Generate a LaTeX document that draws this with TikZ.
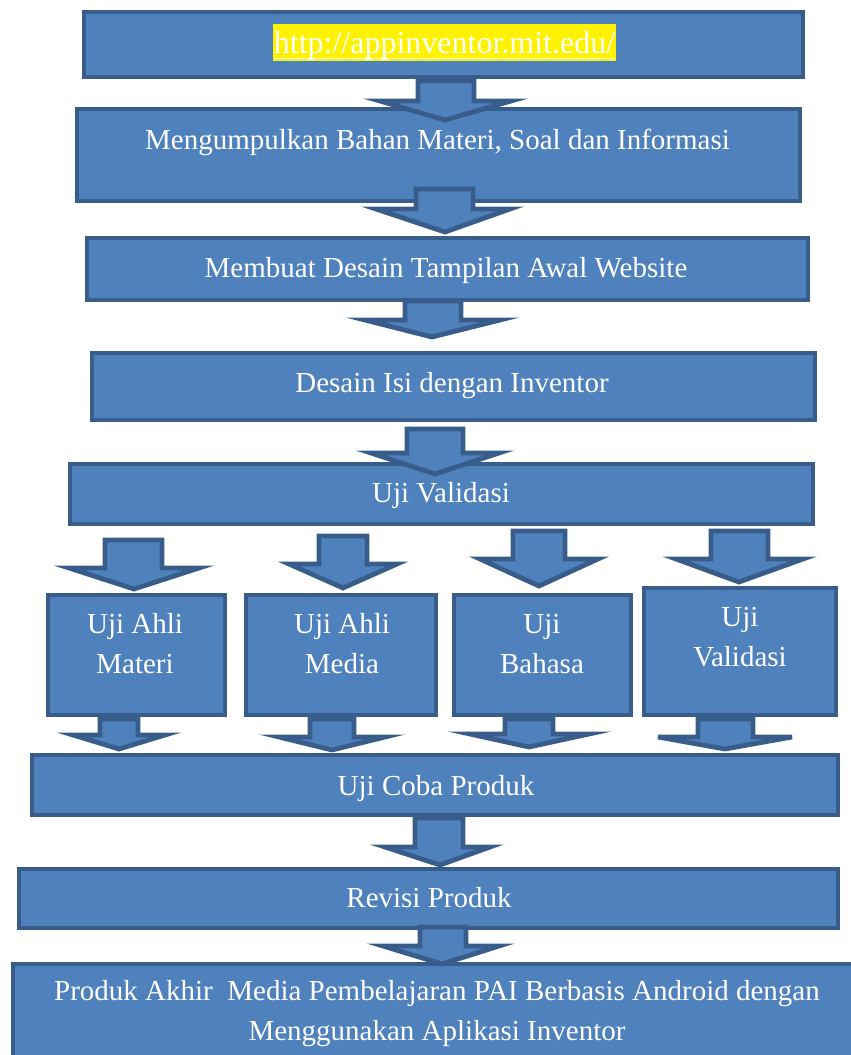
\documentclass[tikz,border=0pt]{standalone}
\usepackage{fontspec}
\setmainfont{Liberation Serif}
\definecolor{boxfill}{HTML}{4F81BD}
\definecolor{boxline}{HTML}{385D8A}
\tikzset{
  flowbox/.style={draw=boxline, fill=boxfill, line width=4.8pt, rectangle, inner sep=0pt, outer sep=0pt, line join=miter},
  blockarrow/.style={draw=boxline, fill=boxfill, line width=4.8pt, line join=miter},
  boxtext/.style={text=white, font=\fontsize{29}{40}\selectfont, align=center, anchor=base, inner sep=0pt},
}
% block arrow: shaft x1, shaft x2, top, head base, head x1, head x2, tip x, tip y
\newcommand\blkarrow[8]{%
  \draw[blockarrow] ({#1+2},{#3+2}) -- ({#2-2},{#3+2}) -- ({#2-2},{#4+2}) -- ({#6-3},{#4+2})
    -- (#7,{#8-3}) -- ({#5+3},{#4+2}) -- ({#1+2},{#4+2}) -- cycle;}
\begin{document}
\begin{tikzpicture}[x=1pt,y=-1pt]
\useasboundingbox (0,0) rectangle (851,1055);
\clip (0,0) rectangle (851,1055);
% boxes
\node[flowbox, minimum width=719pt, minimum height=65pt] (b1) at (443.5,44.5) {};
\node[flowbox, minimum width=723pt, minimum height=92pt] (b2) at (438.5,155) {};
\node[flowbox, minimum width=721pt, minimum height=62pt] (b3) at (447.5,269) {};
\node[flowbox, minimum width=723pt, minimum height=67pt] (b4) at (453.5,386.5) {};
\node[flowbox, minimum width=743pt, minimum height=60pt] (b5) at (441.5,494) {};
\node[flowbox, minimum width=177pt, minimum height=120pt] (bA) at (136.5,655) {};
\node[flowbox, minimum width=190pt, minimum height=120pt] (bB) at (341,655) {};
\node[flowbox, minimum width=177pt, minimum height=120pt] (bC) at (542.5,655) {};
\node[flowbox, minimum width=192pt, minimum height=127pt] (bD) at (740,651.5) {};
\node[flowbox, minimum width=806pt, minimum height=60pt] (b6) at (435,785) {};
\node[flowbox, minimum width=819pt, minimum height=59pt] (b7) at (428.5,898.5) {};
\node[flowbox, minimum width=847pt, minimum height=101pt] (b8) at (436.5,1014.5) {};
% highlight for URL
\fill[yellow] (273,24) rectangle (616,61);
% texts
\node[boxtext, font=\fontsize{32}{40}\selectfont] (t1) at (444.5,53) {http://appinventor.mit.edu/};
\draw[white, line width=1.5pt] (274,58.5) -- (614,58.5);
\node[boxtext] (t2) at (437.5,149) {Mengumpulkan Bahan Materi, Soal dan Informasi};
\node[boxtext] (t3) at (446,277) {Membuat Desain Tampilan Awal Website};
\node[boxtext] (t4) at (452,392) {Desain Isi dengan Inventor};
\node[boxtext] (t5) at (441,502) {Uji Validasi};
\node[boxtext] (tA) at (135,673) {Uji Ahli\\Materi};
\node[boxtext] (tB) at (342,673) {Uji Ahli\\Media};
\node[boxtext] (tC) at (542,673) {Uji\\Bahasa};
\node[boxtext] (tD) at (740,666) {Uji\\Validasi};
\node[boxtext] (t6) at (436,795) {Uji Coba Produk};
\node[boxtext] (t7) at (429,907) {Revisi Produk};
\node[boxtext] (t8) at (437,1040) {Produk Akhir\ \ Media Pembelajaran PAI Berbasis Android dengan\\Menggunakan Aplikasi Inventor};
% arrows
\blkarrow{416}{476}{79}{99}{377}{514}{445}{123}
\blkarrow{414}{475}{187}{207}{373}{513}{445}{235}
\blkarrow{403}{463}{299}{318}{362}{503}{432}{340}
\blkarrow{405}{465}{427}{451}{368}{502}{435}{477}
\blkarrow{103}{164}{538}{566}{66}{202}{134}{592}
\blkarrow{317}{369}{534}{562}{286}{400}{343}{591}
\blkarrow{511}{567}{529}{557}{477}{601}{539}{589}
\blkarrow{709}{770}{529}{557}{673}{806}{739}{585}
\blkarrow{98}{140}{717}{733}{70}{168}{119}{752}
\blkarrow{308}{356}{717}{735}{276}{388}{332}{753}
\blkarrow{503}{555}{717}{732}{467}{592}{529}{750}
\blkarrow{696}{755}{717}{735}{655}{795}{725}{752}
\blkarrow{413}{465}{816}{845}{382}{493}{440}{868}
\blkarrow{418}{468}{925}{944}{380}{502}{442}{967}
\end{tikzpicture}
\end{document}
